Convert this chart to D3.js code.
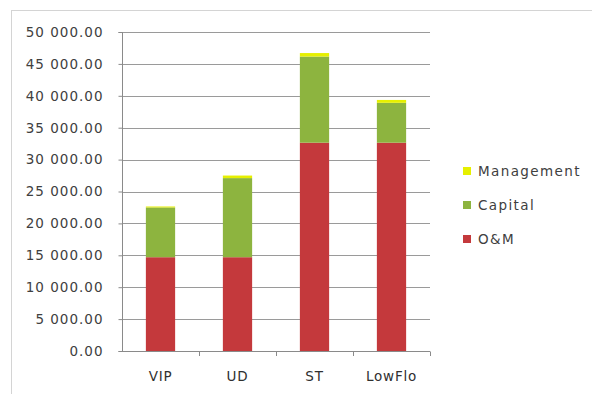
<!DOCTYPE html>
<html><head><meta charset="utf-8">
<script src="https://cdn.jsdelivr.net/npm/d3@7"></script>
<style>body{margin:0;background:#fff}svg{display:block}</style>
</head><body>
<script>
const categories = ["VIP", "UD", "ST", "LowFlo"];
const seriesNames = ["O&M", "Capital", "Management"];
const om = [14700, 14700, 32650, 32650];
const capital = [7800, 12400, 13500, 6250];
const management = [150, 400, 550, 450];
const yTicks = [0, 5000, 10000, 15000, 20000, 25000, 30000, 35000, 40000, 45000, 50000];
const colors = {"O&M": "#c4393c", "Capital": "#8db43f", "Management": "#e6f000"};

const W = 592, H = 394;
const svg = d3.select("body").append("svg").attr("width", W).attr("height", H);
svg.append("rect").attr("x", 11.5).attr("y", 10.5).attr("width", 590).attr("height", 400)
  .attr("fill", "none").attr("stroke", "#d4d4d4");

const x = d3.scaleBand().domain(categories).range([122, 430]).paddingInner(0.62).paddingOuter(0.31);
const y = d3.scaleLinear().domain([0, 50000]).range([351, 32]);

const fmt = v => d3.format(",.2f")(v).replace(/,/g, " ");
const font = "DejaVu Sans, sans-serif";

// gridlines
svg.append("g").selectAll("line").data(yTicks.filter(d => d > 0)).join("line")
  .attr("x1", 122).attr("x2", 430).attr("y1", d => Math.round(y(d)) + 0.5).attr("y2", d => Math.round(y(d)) + 0.5)
  .attr("stroke", "#9a9a9a").attr("stroke-width", 1);

const table = categories.map((c, i) => ({cat: c, "O&M": om[i], "Capital": capital[i], "Management": management[i]}));
const stack = d3.stack().keys(seriesNames)(table);
svg.append("g").selectAll("g").data(stack).join("g").attr("fill", d => colors[d.key])
  .selectAll("rect").data(d => d).join("rect")
  .attr("x", d => x(d.data.cat)).attr("width", x.bandwidth())
  .attr("y", d => y(d[1])).attr("height", d => y(d[0]) - y(d[1]));

// y axis
const yAxis = svg.append("g").attr("transform", "translate(122.5,0)")
  .call(d3.axisLeft(y).tickValues(yTicks).tickFormat(fmt).tickSize(4).tickPadding(15));
yAxis.select(".domain").attr("stroke", "#8a8a8a").attr("d", "M-4,32.5H0V351.5H-4");
yAxis.selectAll(".tick line").attr("stroke", "#8a8a8a");
yAxis.selectAll("text").attr("font-family", font).attr("font-size", 13.5).attr("fill", "#404040")
  .attr("letter-spacing", "1px");

// x axis
const xAxis = svg.append("g").attr("transform", "translate(0,351.5)")
  .call(d3.axisBottom(x).tickSize(0).tickPadding(20));
xAxis.select(".domain").attr("stroke", "#8a8a8a").attr("d", "M122,0H430");
xAxis.selectAll("text").attr("font-family", font).attr("font-size", 13.5).attr("fill", "#303030")
  .attr("letter-spacing", "0.8px");
const step = x.step();
svg.append("g").selectAll("line").data(d3.range(1, categories.length + 1)).join("line")
  .attr("x1", i => Math.round(122 + i * step) + 0.5).attr("x2", i => Math.round(122 + i * step) + 0.5)
  .attr("y1", 351.5).attr("y2", 356).attr("stroke", "#8a8a8a");

// legend
const legendItems = ["Management", "Capital", "O&M"];
const lg = svg.append("g").selectAll("g").data(legendItems).join("g")
  .attr("transform", (d, i) => `translate(463,${171 + i * 34})`);
lg.append("rect").attr("x", 0).attr("y", -4).attr("width", 8).attr("height", 8).attr("fill", d => colors[d]);
lg.append("text").attr("x", 15).attr("y", 0).attr("dy", "0.35em").text(d => d)
  .attr("font-family", font).attr("font-size", 13.5).attr("fill", "#404040").attr("letter-spacing", "1.4px");
</script>
</body></html>
